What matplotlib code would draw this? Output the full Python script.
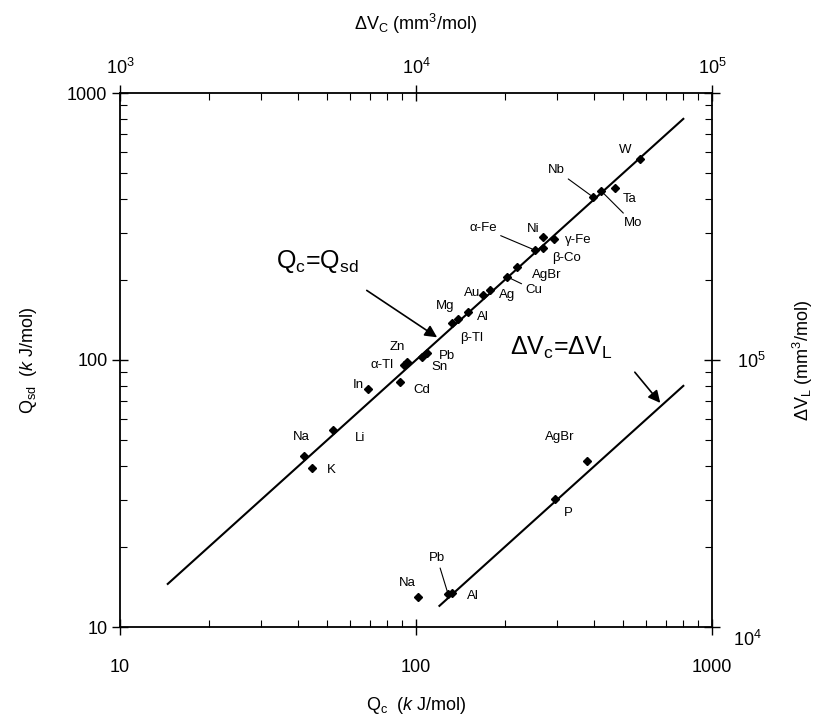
import matplotlib
matplotlib.use("Agg")
import matplotlib.pyplot as plt
from matplotlib.ticker import LogLocator, NullFormatter, FixedLocator, FixedFormatter

plt.rcParams['font.family'] = ['Liberation Sans', 'DejaVu Sans']
plt.rcParams['mathtext.fontset'] = 'custom'
plt.rcParams['mathtext.rm'] = 'Liberation Sans'
plt.rcParams['mathtext.it'] = 'Liberation Sans:italic'
plt.rcParams['mathtext.default'] = 'regular'

# Q_c vs Q_sd (kJ/mol), bottom/left axes
elements = ['Na', 'K', 'Li', 'In', 'Cd', 'α-Tl', 'Zn', 'Pb', 'Sn', 'Mg', 'β-Tl', 'Al',
            'Au', 'Ag', 'Cu', 'AgBr', 'α-Fe', 'β-Co', 'Ni', 'γ-Fe', 'Nb', 'Mo', 'Ta', 'W']
qc = [42, 44.5, 52.5, 69, 88, 91, 93, 105, 109, 132, 139, 150,
      168, 178, 203, 219, 252, 268, 268, 292, 396, 422, 470, 571]
qsd = [43.6, 39.5, 54.7, 78, 83, 96, 98, 103, 106, 138, 143, 151,
       175, 183, 205, 223, 258, 263, 289, 284, 408, 430, 441, 566]
line1_qc = [14.5, 800]

# Delta V_c vs Delta V_L (mm^3/mol), top/right axes
v_names = ['Na', 'Pb', 'Al', 'P', 'AgBr']
dvc = [10160, 12830, 13250, 29500, 37850]
dvl = [12950, 13300, 13400, 30150, 41900]
line2_dv = [12000, 80000]

# label offsets in pixels (dx, dy), True = leader line
lab1 = {'Na': (-3, 19, False), 'K': (19, -2, False), 'Li': (27, -8, False),
        'In': (-10, 4, False), 'Cd': (22, -8, False), 'α-Tl': (-22, 0, False),
        'Zn': (-9, 15, False), 'Pb': (25, 1, False), 'Sn': (12, -14, False),
        'Mg': (-7, 17, False), 'β-Tl': (13, -19, False), 'Al': (15, -5, False),
        'Au': (-11, 2, False), 'Ag': (17, -5, False), 'Cu': (27, -13, True),
        'AgBr': (30, -8, False), 'α-Fe': (-52, 22, True), 'β-Co': (24, -10, False),
        'Ni': (-10, 8, False), 'γ-Fe': (25, -1, False), 'Nb': (-37, 27, True),
        'Mo': (32, -32, True), 'Ta': (15, -11, False), 'W': (-15, 9, False)}
lab2 = {'Na': (-11, 14, False), 'Pb': (-11, 36, True), 'Al': (21, -3, False),
        'P': (13, -14, False), 'AgBr': (-27, 24, False)}

fig = plt.figure(figsize=(8.19, 7.22), dpi=100)
pos = [120 / 819, 1 - 627 / 722, 592 / 819, 534 / 722]
ax = fig.add_axes(pos)
ax2 = fig.add_axes(pos, frameon=False)

ax.set_xscale('log')
ax.set_yscale('log')
ax.set_xlim(10, 1000)
ax.set_ylim(10, 1000)
ax2.set_xscale('log')
ax2.set_yscale('log')
ax2.set_xlim(1e3, 1e5)
ax2.set_ylim(1e4, 1e6)
ax2.patch.set_visible(False)

for s in ax.spines.values():
    s.set_linewidth(1.3)

ax.tick_params(which='major', direction='inout', length=12, width=1, labelsize=13)
ax.tick_params(which='minor', direction='in', length=5, width=0.8)
ax.tick_params(axis='x', which='major', pad=17)
ax.tick_params(axis='y', which='major', pad=3)
ax.xaxis.set_major_locator(FixedLocator([10, 100, 1000]))
ax.xaxis.set_major_formatter(FixedFormatter(['10', '100', '1000']))
ax.yaxis.set_major_locator(FixedLocator([10, 100, 1000]))
ax.yaxis.set_major_formatter(FixedFormatter(['10', '100', '1000']))
ax.xaxis.set_minor_locator(LogLocator(subs=range(2, 10)))
ax.yaxis.set_minor_locator(LogLocator(subs=range(2, 10)))
ax.xaxis.set_minor_formatter(NullFormatter())
ax.yaxis.set_minor_formatter(NullFormatter())

ax2.xaxis.tick_top()
ax2.yaxis.tick_right()
ax2.xaxis.set_label_position('top')
ax2.yaxis.set_label_position('right')
ax2.tick_params(which='major', direction='inout', length=12, width=1, labelsize=13)
ax2.tick_params(which='minor', direction='in', length=5, width=0.8)
ax2.tick_params(axis='x', which='major', pad=5)
ax2.tick_params(axis='y', which='major', pad=12)
ax2.xaxis.set_major_locator(FixedLocator([1e3, 1e4, 1e5]))
ax2.xaxis.set_major_formatter(FixedFormatter(['$10^3$', '$10^4$', '$10^5$']))
ax2.yaxis.set_major_locator(FixedLocator([1e4, 1e5, 1e6]))
ax2.yaxis.set_major_formatter(FixedFormatter(['', '$10^5$', '']))
ax2.xaxis.set_minor_locator(LogLocator(subs=range(2, 10)))
ax2.yaxis.set_minor_locator(LogLocator(subs=range(2, 10)))
ax2.xaxis.set_minor_formatter(NullFormatter())
ax2.yaxis.set_minor_formatter(NullFormatter())
ax2.text(1.035, -0.025, '$10^4$', transform=ax2.transAxes, fontsize=13, va='center', ha='left')

# lines and points
ax.plot(line1_qc, line1_qc, color='k', lw=1.5)
ax.plot(qc, qsd, 'D', color='k', ms=4.5)
ax2.plot(line2_dv, line2_dv, color='k', lw=1.5)
ax2.plot(dvc, dvl, 'D', color='k', ms=4.5)

for name, x, y in zip(elements, qc, qsd):
    dx, dy, leader = lab1[name]
    props = dict(arrowstyle='-', color='k', lw=0.8, shrinkA=1, shrinkB=2) if leader else None
    ax.annotate(name, xy=(x, y), xytext=(dx, dy), textcoords='offset pixels',
                ha='center', va='center', fontsize=9.5, arrowprops=props)

for name, x, y in zip(v_names, dvc, dvl):
    dx, dy, leader = lab2[name]
    props = dict(arrowstyle='-', color='k', lw=0.8, shrinkA=1, shrinkB=2) if leader else None
    ax2.annotate(name, xy=(x, y), xytext=(dx, dy), textcoords='offset pixels',
                 ha='center', va='center', fontsize=9.5, arrowprops=props)

# line labels with arrows
ax.text(0.334, 0.684, '$Q_c$=$Q_{sd}$', transform=ax.transAxes, fontsize=18,
        ha='center', va='center')
ax.annotate('', xy=(120, 120), xytext=(-75, 50), textcoords='offset pixels',
            arrowprops=dict(arrowstyle='-|>', color='k', lw=1.2, mutation_scale=18))
ax2.text(0.745, 0.522, r'$\Delta V_c$=$\Delta V_L$', transform=ax2.transAxes, fontsize=18,
         ha='center', va='center')
ax2.annotate('', xy=(67800, 67800), xytext=(-29, 35), textcoords='offset pixels',
             arrowprops=dict(arrowstyle='-|>', color='k', lw=1.2, mutation_scale=18))

ax.set_xlabel(r'$Q_c$  ($\mathit{k}$ J/mol)', fontsize=13, labelpad=14)
ax.set_ylabel(r'$Q_{sd}$  ($\mathit{k}$ J/mol)', fontsize=13, labelpad=20)
ax2.set_xlabel(r'$\Delta V_C$ (mm$^3$/mol)', fontsize=13, labelpad=20)
ax2.set_ylabel(r'$\Delta V_L$ (mm$^3$/mol)', fontsize=13, labelpad=18)

fig.savefig('out.png', dpi=100)
